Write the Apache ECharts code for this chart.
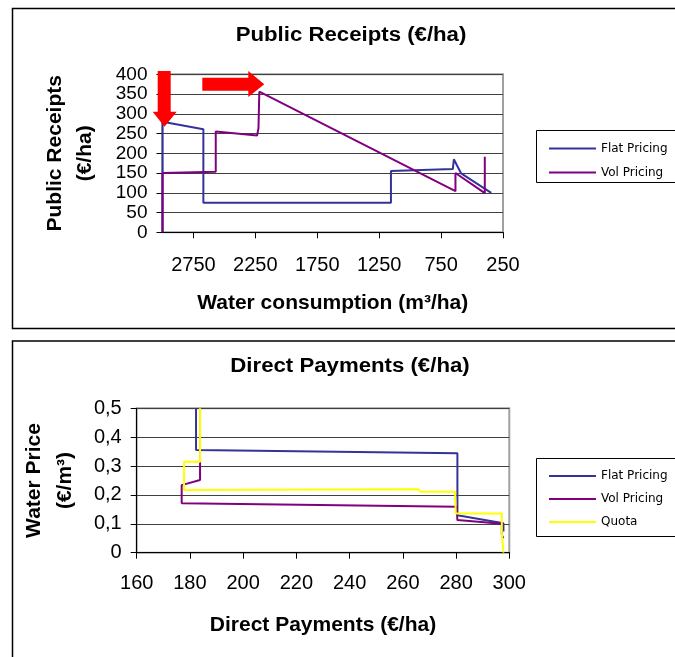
<!DOCTYPE html>
<html>
<head>
<meta charset="utf-8">
<script src="https://cdn.jsdelivr.net/npm/echarts@6/dist/echarts.min.js"></script>
<style>
html, body { margin: 0; padding: 0; background: #fff; }
#chart { width: 675px; height: 657px; }
</style>
</head>
<body>
<div id="chart"></div>
<script>
// upper chart: public receipts against water consumption
var waterTicks = [2750, 2250, 1750, 1250, 750, 250]
var flatWater = [3000, 3000, 2670, 2670, 1155, 1155, 655, 647, 588, 575, 345]
var flatReceipts = [0, 280, 261, 75, 75, 155, 160, 185, 149, 147, 100]
var volWater = [3000, 3000, 2570, 2570, 2236, 2225, 2218, 634, 634, 397, 397]
var volReceipts = [0, 150, 153, 255, 245, 263, 356, 104, 150, 99, 191]

// lower chart: water price against direct payments
var flatPayments = [182.3, 182.3, 280.5, 280.5, 297.8, 297.8]
var flatPrice = [0.5, 0.356, 0.344, 0.13, 0.102, 0.073]
var volPayments = [183.8, 183.8, 176.9, 176.9, 280.2, 280.5, 297.2, 297.2, 297.8]
var volPrice = [0.5, 0.252, 0.234, 0.171, 0.159, 0.113, 0.1, 0.061, 0.05]
var quotaPayments = [183.8, 183.8, 177.8, 177.8, 265.8, 266.5, 279.6, 279.9, 297.2, 297.2, 297.8, 297.8]
var quotaPrice = [0.5, 0.315, 0.315, 0.217, 0.22, 0.211, 0.211, 0.136, 0.136, 0.067, 0.067, 0]

var FONT = 'Liberation Sans'
var BLUE = '#333399'
var PURPLE = '#800080'
var YELLOW = '#ffff00'

function pairs (xs, ys) {
  return xs.map(function (x, i) { return [x, ys[i]] })
}

function lineSeries (name, color, xIdx, data, z) {
  return {
    name: name,
    type: 'line',
    xAxisIndex: xIdx,
    yAxisIndex: xIdx,
    symbol: 'none',
    animation: false,
    z: z,
    lineStyle: { color: color, width: 2 },
    itemStyle: { color: color },
    data: data
  }
}

function legendBox (top, gap, names) {
  return {
    orient: 'vertical',
    left: 544,
    top: top,
    icon: 'rect',
    itemWidth: 47,
    itemHeight: 2,
    itemGap: gap,
    textStyle: { color: '#000', fontFamily: 'DejaVu Sans', fontSize: 12 },
    data: names
  }
}

var axisText = { color: '#000', fontFamily: FONT, fontSize: 20 }
var nameText = { color: '#000', fontFamily: FONT, fontSize: 21, fontWeight: 'bold' }
var blackLine = { lineStyle: { color: '#000', width: 1 } }

var myChart = echarts.init(document.getElementById('chart'))
var option = {
  backgroundColor: '#fff',
  animation: false,
  grid: [
    { left: 162.5, top: 74.3, width: 340.5, height: 158, show: true, borderColor: '#a0a0a0', borderWidth: 2 },
    { left: 136.7, top: 408.3, width: 372.6, height: 144.4, show: true, borderColor: '#a0a0a0', borderWidth: 2 }
  ],
  legend: [
    legendBox(137.5, 12, ['Flat Pricing', 'Vol Pricing']),
    legendBox(465, 11, ['Flat Pricing', 'Vol Pricing', 'Quota'])
  ],
  xAxis: [
    {
      type: 'value',
      gridIndex: 0,
      min: 250,
      max: 3000,
      inverse: true,
      name: 'Water consumption (m³/ha)',
      nameLocation: 'middle',
      nameGap: 60,
      nameTextStyle: nameText,
      axisLine: blackLine,
      axisTick: { show: true, length: 6, customValues: waterTicks, lineStyle: { color: '#000' } },
      axisLabel: Object.assign({
        margin: 23,
        customValues: waterTicks,
        formatter: function (v) { return String(v) }
      }, axisText),
      splitLine: { show: false }
    },
    {
      type: 'value',
      gridIndex: 1,
      min: 160,
      max: 300,
      interval: 20,
      name: 'Direct Payments (€/ha)',
      nameLocation: 'middle',
      nameGap: 62,
      nameTextStyle: nameText,
      axisLine: blackLine,
      axisTick: { show: true, length: 6, lineStyle: { color: '#000' } },
      axisLabel: Object.assign({ margin: 21 }, axisText),
      splitLine: { show: false }
    }
  ],
  yAxis: [
    {
      type: 'value',
      gridIndex: 0,
      min: 0,
      max: 400,
      interval: 50,
      name: 'Public Receipts\n(€/ha)',
      nameLocation: 'middle',
      nameRotate: 90,
      nameGap: 62,
      nameTextStyle: Object.assign({ lineHeight: 30 }, nameText),
      axisLine: { show: true, lineStyle: { color: '#000', width: 1 } },
      axisTick: { show: true, length: 6, lineStyle: { color: '#000' } },
      // 19px: ticks are under 20px apart, a bigger font makes echarts drop labels
      axisLabel: Object.assign({}, axisText, { margin: 15, fontSize: 19 }),
      splitLine: { show: true, lineStyle: { color: '#404040', width: 1 } }
    },
    {
      type: 'value',
      gridIndex: 1,
      min: 0,
      max: 0.5,
      interval: 0.1,
      name: 'Water Price\n(€/m³)',
      nameLocation: 'middle',
      nameRotate: 90,
      nameGap: 56,
      nameTextStyle: Object.assign({ lineHeight: 31 }, nameText),
      axisLine: { show: true, lineStyle: { color: '#000', width: 1 } },
      axisTick: { show: true, length: 6, lineStyle: { color: '#000' } },
      axisLabel: Object.assign({
        margin: 15,
        formatter: function (v) { return v === 0 ? '0' : v.toFixed(1).replace('.', ',') }
      }, axisText),
      splitLine: { show: true, lineStyle: { color: '#404040', width: 1 } }
    }
  ],
  series: [
    lineSeries('Flat Pricing', BLUE, 0, pairs(flatWater, flatReceipts), 2),
    lineSeries('Vol Pricing', PURPLE, 0, pairs(volWater, volReceipts), 3),
    lineSeries('Flat Pricing', BLUE, 1, pairs(flatPayments, flatPrice), 2),
    lineSeries('Vol Pricing', PURPLE, 1, pairs(volPayments, volPrice), 3),
    lineSeries('Quota', YELLOW, 1, pairs(quotaPayments, quotaPrice), 4)
  ],
  graphic: [
    // outer frames of the two charts
    { type: 'rect', silent: true, z: 0, shape: { x: 12.5, y: 8.5, width: 700, height: 320 }, style: { fill: null, stroke: '#000', lineWidth: 1.5 } },
    { type: 'rect', silent: true, z: 0, shape: { x: 12.5, y: 341, width: 700, height: 340 }, style: { fill: null, stroke: '#000', lineWidth: 1.5 } },
    // legend boxes
    { type: 'rect', silent: true, shape: { x: 536.5, y: 130.5, width: 160, height: 52 }, style: { fill: null, stroke: '#000', lineWidth: 1 } },
    { type: 'rect', silent: true, shape: { x: 536.5, y: 458.5, width: 160, height: 78 }, style: { fill: null, stroke: '#000', lineWidth: 1 } },
    // titles
    { type: 'text', silent: true, x: 351, y: 35, scaleX: 1.11, style: { text: 'Public Receipts (€/ha)', align: 'center', verticalAlign: 'middle', fill: '#000', font: 'bold 20px "Liberation Sans"' } },
    { type: 'text', silent: true, x: 350, y: 366, scaleX: 1.11, style: { text: 'Direct Payments (€/ha)', align: 'center', verticalAlign: 'middle', fill: '#000', font: 'bold 20px "Liberation Sans"' } },
    // red arrows
    { type: 'polygon', silent: true, z: 100, shape: { points: [[157.7, 71], [170.7, 71], [170.7, 111.7], [176.7, 111.7], [164.5, 126.7], [152.7, 111.7], [157.7, 111.7]] }, style: { fill: '#ff0000' } },
    { type: 'polygon', silent: true, z: 100, shape: { points: [[202.3, 77.7], [248.3, 77.7], [248.3, 71], [264.3, 84.3], [248.3, 97], [248.3, 90.7], [202.3, 90.7]] }, style: { fill: '#ff0000' } }
  ]
}
myChart.setOption(option)
</script>
</body>
</html>
